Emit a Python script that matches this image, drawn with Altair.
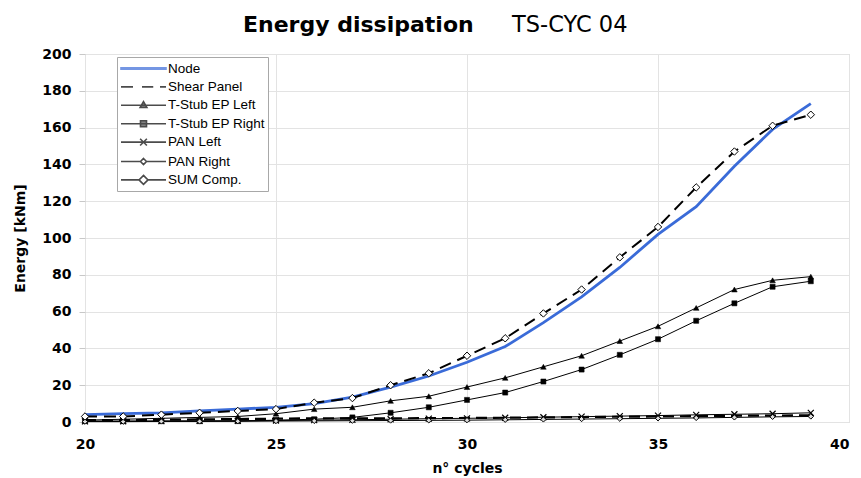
import altair as alt
import pandas as pd

cycles = list(range(20, 40))
node = [4, 4.5, 5, 6, 7, 8, 10, 13.5, 19, 25, 32.5, 41, 54, 68, 84, 102, 117, 139, 159, 173]
shear_panel = [1, 1, 1.2, 1.4, 1.6, 1.8, 2, 2, 2, 2.1, 2.2, 2.3, 2.5, 2.7, 2.9, 3, 3.2, 3.4, 3.5, 3.6]
tstub_left = [1, 1.5, 2, 2.5, 3, 4.5, 7, 8, 11.5, 14, 19, 24, 30, 36, 44, 52, 62, 72, 77, 79]
tstub_right = [0.5, 0.5, 0.5, 0.5, 0.5, 1, 1.5, 2.5, 5, 8, 12, 16, 22, 28.5, 36.5, 45, 55, 64.5, 73.5, 76.5]
pan_left = [0.3, 0.4, 0.5, 0.6, 0.7, 0.8, 1, 1.2, 1.5, 1.8, 2, 2.3, 2.6, 2.9, 3.2, 3.5, 3.9, 4.2, 4.5, 5]
pan_right = [0.2, 0.2, 0.3, 0.3, 0.4, 0.5, 0.6, 0.7, 0.8, 0.9, 1, 1.2, 1.4, 1.6, 1.8, 2, 2.2, 2.5, 2.8, 3]
sum_comp = [3, 3, 4, 5, 6, 7, 10.5, 13, 20, 26.5, 36, 45.5, 59, 72, 89.5, 106, 127.5, 147, 161, 167]

series_names = ["Node", "Shear Panel", "T-Stub EP Left", "T-Stub EP Right", "PAN Left", "PAN Right", "SUM Comp."]
series_values = [node, shear_panel, tstub_left, tstub_right, pan_left, pan_right, sum_comp]

x_ticks = [20, 25, 30, 35, 40]
y_ticks = [0, 20, 40, 60, 80, 100, 120, 140, 160, 180, 200]

title_text = "Energy dissipation"
subtitle_text = "TS-CYC 04"

rows = []
for name, vals in zip(series_names, series_values):
    for c, v in zip(cycles, vals):
        rows.append({"cycle": c, "energy": v, "series": name})
df = pd.DataFrame(rows)

BLUE = "#3a6bd8"

line_style = {
    "Node": dict(stroke=BLUE, strokeWidth=2.8),
    "Shear Panel": dict(stroke="black", strokeWidth=2.2, strokeDash=[11, 6]),
    "T-Stub EP Left": dict(stroke="black", strokeWidth=1),
    "T-Stub EP Right": dict(stroke="black", strokeWidth=1),
    "PAN Left": dict(stroke="black", strokeWidth=1),
    "PAN Right": dict(stroke="black", strokeWidth=1),
    "SUM Comp.": dict(stroke="black", strokeWidth=2, strokeDash=[12, 7]),
}
point_style = {
    "T-Stub EP Left": dict(shape="triangle-up", fill="black", stroke="black", strokeWidth=0.5, size=32, filled=True),
    "T-Stub EP Right": dict(shape="square", fill="black", stroke="black", strokeWidth=0.5, size=26, filled=True),
    "PAN Left": dict(shape="M-1,-1L1,1M-1,1L1,-1", stroke="black", strokeWidth=1.2, size=36, filled=False),
    "PAN Right": dict(shape="diamond", fill="#dddddd", stroke="black", strokeWidth=1, size=28, filled=True),
    "SUM Comp.": dict(shape="diamond", fill="white", stroke="black", strokeWidth=1, size=55, filled=True),
}

x_enc = alt.X("cycle:Q", scale=alt.Scale(domain=[20, 40], nice=False), title="n° cycles",
              axis=alt.Axis(values=x_ticks, format="d", labelFlush=False,
                            labelAlign=alt.ExprRef(expr="datum.value == 40 ? 'right' : 'center'")))
y_enc = alt.Y("energy:Q", scale=alt.Scale(domain=[0, 200], nice=False), title="Energy [kNm]",
              axis=alt.Axis(values=y_ticks))

layers = []
for name in series_names:
    base = alt.Chart(df).transform_filter(alt.datum.series == name)
    layers.append(base.mark_line(**line_style[name]).encode(x=x_enc, y=y_enc))
    if name in point_style:
        layers.append(base.mark_point(opacity=1, **point_style[name]).encode(x=x_enc, y=y_enc))

# legend-driving layer (no visible marks; scales with explicit domains)
legend_paths = [
    "M-3,-0.1L3,-0.1L3,0.1L-3,0.1Z",
    "M-3,0L-1.4,0M-0.2,0L1.3,0M2.2,0L3,0",
    "M-3,0L3,0M0,-0.5L0.45,0.3L-0.45,0.3Z",
    "M-3,0L3,0M-0.4,-0.4L0.4,-0.4L0.4,0.4L-0.4,0.4Z",
    "M-3,0L3,0M-0.45,-0.45L0.45,0.45M-0.45,0.45L0.45,-0.45",
    "M-3,0L-0.4,0M0.4,0L3,0M0,-0.4L0.4,0L0,0.4L-0.4,0Z",
    "M-3,0L-0.6,0M0.6,0L3,0M0,-0.6L0.6,0L0,0.6L-0.6,0Z",
]
legend_strokes = [BLUE, "black", "black", "black", "black", "black", "black"]
legend_fills = [BLUE, "transparent", "black", "black", "transparent", "white", "white"]

leg = alt.Legend(
    title=None, orient="none", legendX=32, legendY=3,
    labelFont="Liberation Sans", labelFontSize=13.5, labelColor="black",
    symbolSize=225, symbolStrokeWidth=1.6, symbolOffset=15, labelOffset=16,
    padding=3, rowPadding=3.4, strokeColor="#a8a8a8", fillColor="white",
)
legend_layer = alt.Chart(df).transform_filter("false").mark_point(filled=True).encode(
    x=x_enc, y=y_enc,
    shape=alt.Shape("series:N", scale=alt.Scale(domain=series_names, range=legend_paths), legend=leg),
    stroke=alt.Stroke("series:N", scale=alt.Scale(domain=series_names, range=legend_strokes), legend=leg),
    fill=alt.Fill("series:N", scale=alt.Scale(domain=series_names, range=legend_fills), legend=leg),
)

title_df = pd.DataFrame({"t": [title_text]})
title_layer = alt.Chart(title_df).mark_text(
    align="left", baseline="alphabetic", font="DejaVu Sans", fontSize=22, fontWeight="bold", color="black"
).encode(text="t:N", x=alt.value(158), y=alt.value(-22))

subtitle_df = pd.DataFrame({"t": [subtitle_text]})
subtitle_layer = alt.Chart(subtitle_df).mark_text(
    align="left", baseline="alphabetic", font="DejaVu Sans", fontSize=22.5, color="black"
).encode(text="t:N", x=alt.value(427), y=alt.value(-22))

chart = alt.layer(*layers, legend_layer, title_layer, subtitle_layer).properties(
    width=764, height=368,
    autosize=alt.AutoSizeParams(type="none"),
    padding={"left": 77, "top": 46, "right": 4, "bottom": 56},
).configure_view(stroke="#d0d0d0", strokeWidth=1).configure_axis(
    labelFont="DejaVu Sans", labelFontSize=14, labelFontWeight="bold", labelColor="black",
    titleFont="DejaVu Sans", titleFontSize=14, titleFontWeight="bold", titleColor="black",
    gridColor="#e3e3e3", gridWidth=1, domain=False,
).configure_axisY(
    tickSize=6, tickColor="#c8c8c8", labelPadding=8, titlePadding=14,
).configure_axisX(
    ticks=False, labelPadding=15, titlePadding=10,
)

chart.save("out.html", embed_options={"renderer": "svg", "actions": False})
